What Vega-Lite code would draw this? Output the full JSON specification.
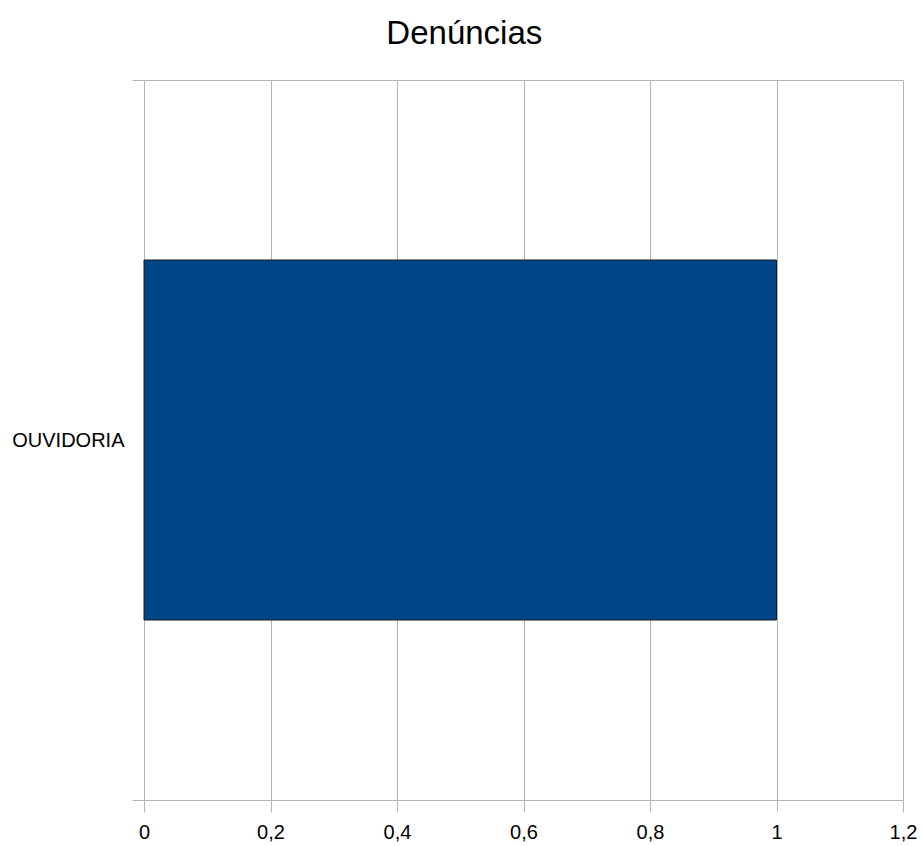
{
  "$schema": "https://vega.github.io/schema/vega-lite/v6.json",
  "width": 759,
  "height": 720,
  "autosize": {"type": "none"},
  "padding": {"left": 144, "top": 80, "right": 20, "bottom": 46},
  "background": "#ffffff",
  "title": {
    "text": "Denúncias",
    "anchor": "middle",
    "frame": "bounds",
    "font": "Liberation Sans",
    "fontSize": 33,
    "fontWeight": "normal",
    "color": "#000000",
    "baseline": "alphabetic",
    "offset": -7
  },
  "data": {"values": [{"categoria": "OUVIDORIA", "valor": 1}]},
  "mark": {"type": "bar", "size": 360, "color": "#004586", "stroke": "#1a1a1a", "strokeWidth": 1},
  "encoding": {
    "y": {
      "field": "categoria",
      "type": "nominal",
      "title": null,
      "scale": {"paddingInner": 0, "paddingOuter": 0},
      "axis": {
        "tickBand": "extent",
        "grid": true,
        "gridColor": "#b3b3b3",
        "domainColor": "#b3b3b3",
        "tickColor": "#b3b3b3",
        "tickSize": 12,
        "labelPadding": 8,
        "labelFont": "Liberation Sans",
        "labelFontSize": 20,
        "labelColor": "#000000"
      }
    },
    "x": {
      "field": "valor",
      "type": "quantitative",
      "title": null,
      "scale": {"domain": [0, 1.2], "nice": false, "zero": true},
      "axis": {
        "values": [0, 0.2, 0.4, 0.6, 0.8, 1, 1.2],
        "labelExpr": "replace(format(datum.value, '~g'), '.', ',')",
        "grid": true,
        "gridColor": "#b3b3b3",
        "domainColor": "#b3b3b3",
        "tickColor": "#b3b3b3",
        "tickSize": 12,
        "labelPadding": 10,
        "labelFont": "Liberation Sans",
        "labelFontSize": 20,
        "labelColor": "#000000",
        "labelFlush": false
      }
    }
  },
  "config": {"view": {"stroke": null}}
}
